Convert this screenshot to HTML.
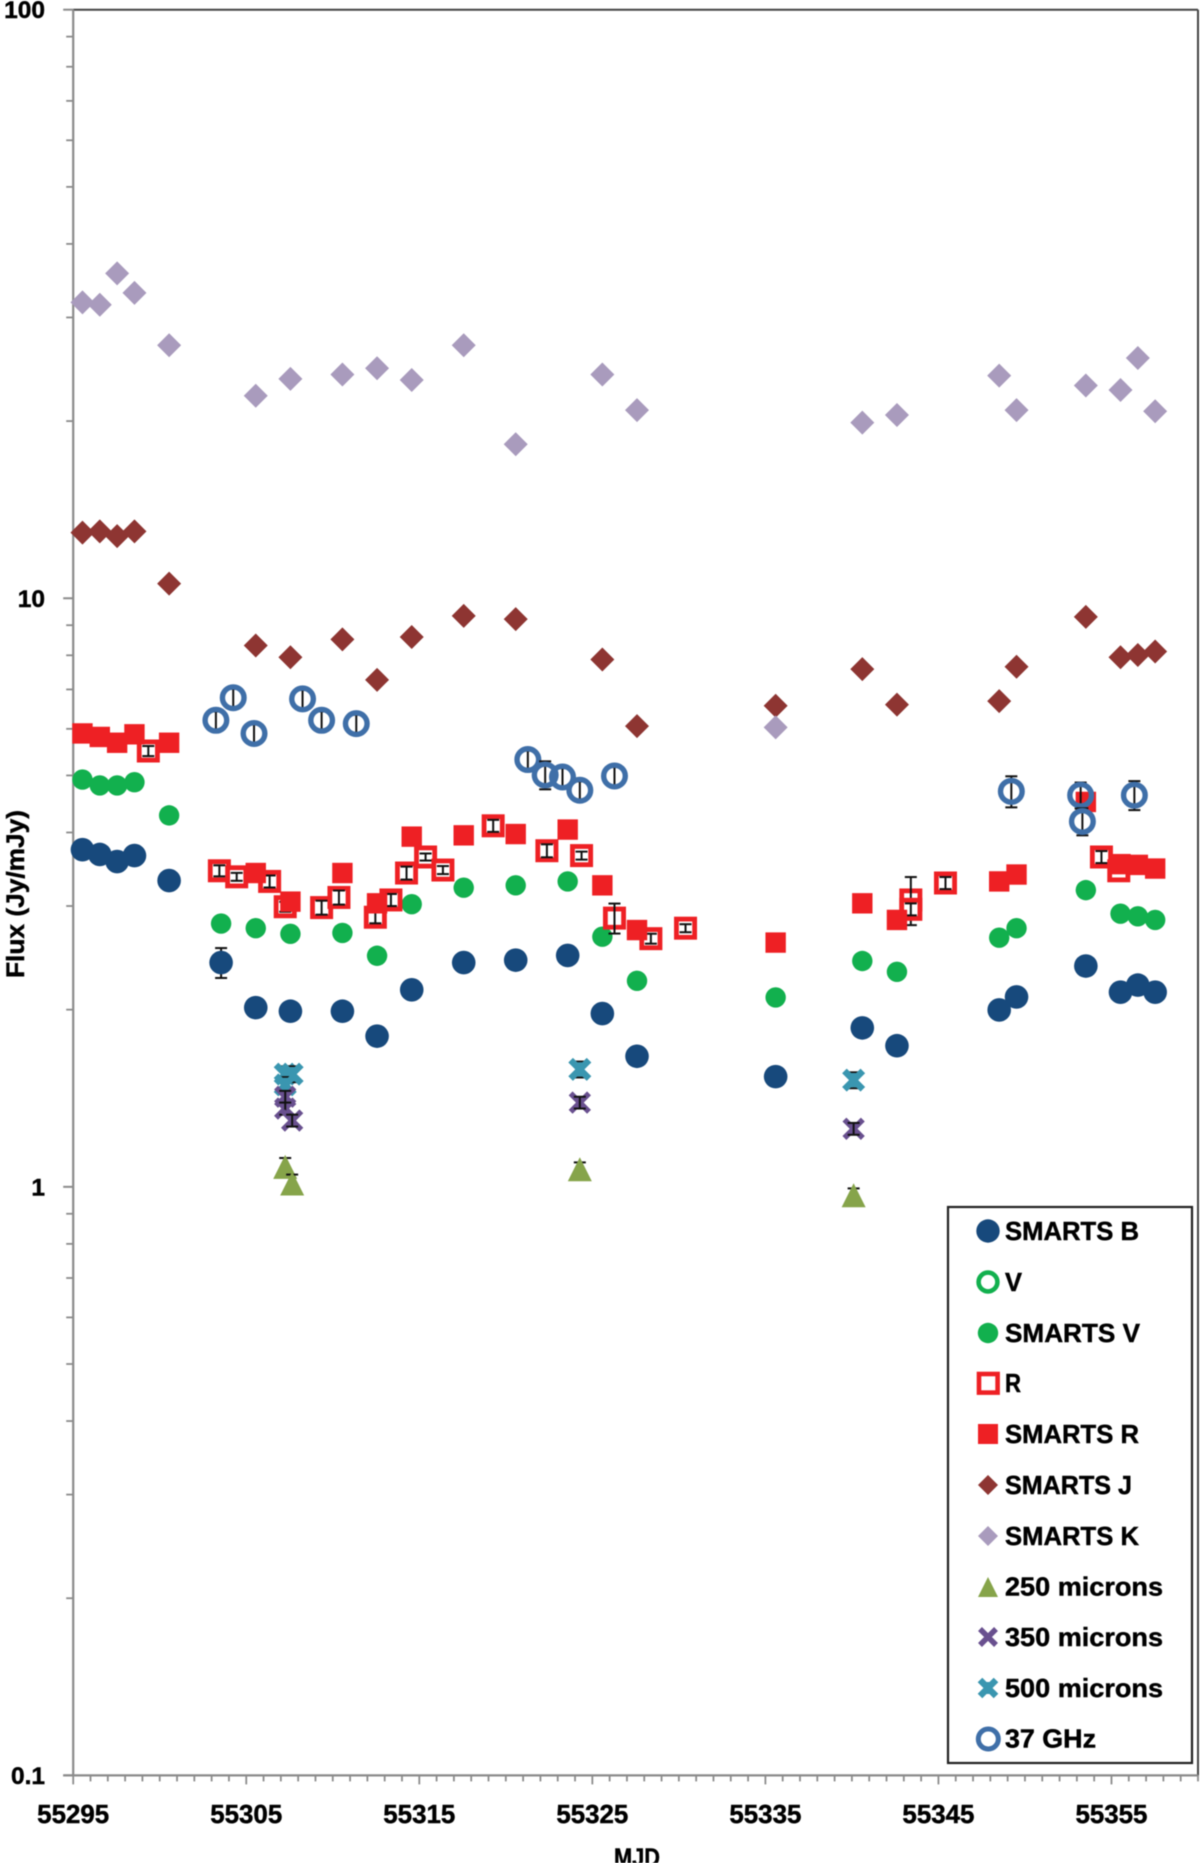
<!DOCTYPE html>
<html lang="en">
<head>
<meta charset="utf-8">
<title>Flux vs MJD</title>
<style>
html,body{margin:0;padding:0;background:#fff;}
#chart{display:block;width:1200px;height:1863px;filter:blur(0.5px);}
text{font-family:"Liberation Sans",sans-serif;font-weight:bold;fill:#000;stroke:#000;stroke-width:0.45px;}
</style>
</head>
<body>
<svg id="chart" xmlns="http://www.w3.org/2000/svg" width="1200" height="1863" viewBox="0 0 1200 1863">
  <rect x="0" y="0" width="1200" height="1863" fill="#fff"/>
  <g id="axes"></g>
  <g id="marks"></g>
  <text transform="translate(24,894) rotate(-90)" text-anchor="middle" font-size="25" textLength="168" lengthAdjust="spacingAndGlyphs">Flux (Jy/mJy)</text>
  <text x="637" y="1866" text-anchor="middle" font-size="25" textLength="46" lengthAdjust="spacingAndGlyphs">MJD</text>
  <g>
    <rect x="948" y="1207" width="244" height="556" fill="#fff" stroke="#222" stroke-width="2.2"/>
    <g>
      <circle cx="988" cy="1231" r="11.7" fill="#17497c"/>
      <text x="1005" y="1240" font-size="26" textLength="134" lengthAdjust="spacingAndGlyphs">SMARTS B</text>
    </g>
    <g>
      <circle cx="988" cy="1282" r="9.4" fill="none" stroke="#12b04e" stroke-width="4.6"/>
      <text x="1005" y="1291" font-size="26" textLength="17" lengthAdjust="spacingAndGlyphs">V</text>
    </g>
    <g>
      <circle cx="988" cy="1333" r="10.2" fill="#12b04e"/>
      <text x="1005" y="1342" font-size="26" textLength="135" lengthAdjust="spacingAndGlyphs">SMARTS V</text>
    </g>
    <g>
      <rect x="979" y="1374" width="18.6" height="18.6" fill="#fff" stroke="#ee2024" stroke-width="4.6"/>
      <text x="1005" y="1392" font-size="26" textLength="16" lengthAdjust="spacingAndGlyphs">R</text>
    </g>
    <g>
      <rect x="978" y="1424" width="20" height="20" fill="#ee2024"/>
      <text x="1005" y="1443" font-size="26" textLength="134" lengthAdjust="spacingAndGlyphs">SMARTS R</text>
    </g>
    <g>
      <polygon points="988,1475 998,1485 988,1495 978,1485" fill="#8e3532"/>
      <text x="1005" y="1494" font-size="26" textLength="127" lengthAdjust="spacingAndGlyphs">SMARTS J</text>
    </g>
    <g>
      <polygon points="988,1526 998,1536 988,1546 978,1536" fill="#a99bbd"/>
      <text x="1005" y="1545" font-size="26" textLength="134" lengthAdjust="spacingAndGlyphs">SMARTS K</text>
    </g>
    <g>
      <polygon points="988,1577 998,1597 978,1597" fill="#86a44a"/>
      <text x="1005" y="1595.5" font-size="26" textLength="158" lengthAdjust="spacingAndGlyphs">250 microns</text>
    </g>
    <g>
      <path d="M980,1629 L996,1645 M996,1629 L980,1645" stroke="#69508f" stroke-width="5.5" fill="none"/>
      <text x="1005" y="1646" font-size="26" textLength="158" lengthAdjust="spacingAndGlyphs">350 microns</text>
    </g>
    <g>
      <path d="M980,1680 L996,1696 M996,1680 L980,1696 M988,1682 L988,1694" stroke="#3a96b0" stroke-width="6.5" fill="none"/>
      <text x="1005" y="1697" font-size="26" textLength="158" lengthAdjust="spacingAndGlyphs">500 microns</text>
    </g>
    <g>
      <circle cx="988.3" cy="1739" r="10" fill="none" stroke="#3f6fa8" stroke-width="5"/>
      <text x="1005" y="1747.5" font-size="26" textLength="91" lengthAdjust="spacingAndGlyphs">37 GHz</text>
    </g>
  </g>
</svg>
<script>
const xTickLabels = [55295, 55305, 55315, 55325, 55335, 55345, 55355];
const yTickLabels = ["100", "10", "1", "0.1"];

const smartsBMjd = [55295.5,55296.5,55297.5,55298.5,55300.5,55303.5,55305.5,55307.5,55310.5,55312.5,55314.5,55317.5,55320.5,55323.5,55325.5,55327.5,55335.5,55340.5,55342.5,55348.4,55349.4,55353.4,55355.4,55356.4,55357.4];
const smartsBFlux = [3.725,3.656,3.556,3.640,3.301,2.395,2.008,1.980,1.980,1.796,2.153,2.395,2.418,2.463,1.962,1.660,1.533,1.855,1.730,1.990,2.094,2.363,2.133,2.193,2.133];
const smartsBErr = [0,0,0,0,0,0.14,0,0,0,0,0,0,0,0,0,0,0,0,0,0,0,0,0,0,0];

const smartsVFlux = [4.90,4.79,4.79,4.85,4.26,2.79,2.74,2.68,2.69,2.46,3.01,3.21,3.24,3.29,2.65,2.23,2.09,2.41,2.31,2.64,2.74,3.18,2.90,2.87,2.83];

const rMjd = [55299.3,55303.4,55304.4,55306.3,55307.2,55309.3,55310.3,55312.4,55313.3,55314.2,55315.3,55316.3,55319.2,55322.3,55324.3,55326.2,55328.3,55330.3,55343.3,55343.3,55345.3,55354.3,55355.3];
const rFlux = [5.48,3.43,3.35,3.29,2.98,2.97,3.09,2.86,3.06,3.40,3.62,3.44,4.09,3.71,3.64,2.85,2.63,2.74,3.06,2.95,3.27,3.62,3.43];
const rErr = [0.108,0.074,0.052,0.077,0.058,0.081,0.085,0.067,0.072,0.086,0.050,0.054,0.096,0.094,0.057,0.167,0.051,0.043,0.287,0.069,0.077,0.085,0.027];

const smartsRMjd = [55295.5,55296.5,55297.5,55298.5,55300.5,55305.5,55307.5,55310.5,55312.5,55314.5,55317.5,55320.5,55323.5,55325.5,55327.5,55335.5,55340.5,55342.5,55348.4,55349.4,55353.4,55355.4,55356.4,55357.4];
const smartsRFlux = [5.87,5.79,5.66,5.85,5.66,3.40,3.04,3.40,3.02,3.92,3.94,3.96,4.03,3.24,2.72,2.59,3.02,2.83,3.29,3.38,4.49,3.52,3.51,3.46];

const smartsJKMjd = [55295.5,55296.5,55297.5,55298.5,55300.5,55305.5,55307.5,55310.5,55312.5,55314.5,55317.5,55320.5,55325.5,55327.5,55335.5,55340.5,55342.5,55348.4,55349.4,55353.4,55355.4,55356.4,55357.4];
const smartsJFlux = [12.88,12.94,12.70,12.94,10.55,8.28,7.91,8.48,7.24,8.56,9.30,9.18,7.84,6.04,6.54,7.55,6.57,6.66,7.62,9.26,7.91,7.98,8.09];
const smartsKFlux = [31.7,31.4,35.5,32.9,26.8,22.0,23.5,23.9,24.5,23.4,26.8,18.2,23.9,20.8,6.01,19.8,20.4,23.8,20.8,22.9,22.5,25.5,20.7];

const m250Mjd = [55307.2,55307.6,55324.2,55340.0];
const m250Flux = [1.077,1.009,1.067,0.964];
const m250Err = [0.038,0.036,0.029,0.026];

const m350Mjd = [55307.2,55307.2,55307.6,55324.2,55340.0];
const m350Flux = [1.417,1.353,1.291,1.385,1.250];
const m350Err = [0.033,0.032,0.030,0.032,0.029];

const m500Mjd = [55307.2,55307.6,55307.2,55324.2,55340.0];
const m500Flux = [1.548,1.548,1.484,1.577,1.512];
const m500Err = [0.048,0.048,0.046,0.049,0.047];

const ghzMjd = [55303.2,55304.2,55305.4,55308.2,55309.3,55311.3,55321.2,55322.2,55323.2,55324.2,55326.2,55349.1,55353.1,55353.2,55356.2];
const ghzFlux = [6.18,6.75,5.87,6.72,6.18,6.10,5.30,4.99,4.95,4.70,4.97,4.68,4.61,4.16,4.61];
const ghzErr = [0.217,0.238,0.207,0.236,0.217,0.215,0.187,0.273,0.174,0.165,0.175,0.284,0.234,0.220,0.261];

const NS = "http://www.w3.org/2000/svg";
const PLOT_LEFT = 73.2, PLOT_RIGHT = 1198, PLOT_TOP = 9.7, PLOT_BOTTOM = 1775.4;
const MJD_MIN = 55295, MJD_MAX = 55360;
const DECADES = 3;
const LOG_MIN = -1;

function xScale(m) {
  return PLOT_LEFT + (m - MJD_MIN) * (PLOT_RIGHT - PLOT_LEFT) / (MJD_MAX - MJD_MIN);
}
function yScale(v) {
  return PLOT_BOTTOM - (Math.log10(v) - LOG_MIN) * (PLOT_BOTTOM - PLOT_TOP) / DECADES;
}
/* markers sit slightly off the tick grid in the source figure */
function markX(m) {
  return xScale(m) + 0.6 + (m - MJD_MIN) * 0.025;
}
function markY(v) {
  return yScale(v) - 1.0;
}
function make(tag, attrs, parent) {
  const el = document.createElementNS(NS, tag);
  for (const k in attrs) el.setAttribute(k, attrs[k]);
  parent.appendChild(el);
  return el;
}

const axes = document.getElementById("axes");
const marks = document.getElementById("marks");
const GRAY = "#8b8b8b";

/* frame */
const topLine = make("line", {x1: PLOT_LEFT, y1: PLOT_TOP, x2: PLOT_RIGHT, y2: PLOT_TOP, stroke: "#444", "stroke-width": 2}, axes);


const rightLine = make("line", {x1: PLOT_RIGHT, y1: PLOT_TOP, x2: PLOT_RIGHT, y2: PLOT_BOTTOM, stroke: "#444", "stroke-width": 2}, axes);


const yAxisLine = make("line", {x1: PLOT_LEFT, y1: PLOT_TOP, x2: PLOT_LEFT, y2: PLOT_BOTTOM, stroke: GRAY, "stroke-width": 2.2}, axes);


const xAxisLine = make("line", {x1: PLOT_LEFT - 10, y1: PLOT_BOTTOM, x2: PLOT_RIGHT, y2: PLOT_BOTTOM, stroke: GRAY, "stroke-width": 2.2}, axes);



/* y ticks */
yTickLabels.forEach(function (label) {
  const base = parseFloat(label);
  const y = yScale(base);
  const tick = make("line", {x1: PLOT_LEFT - 10, y1: y, x2: PLOT_LEFT, y2: y, stroke: GRAY, "stroke-width": 2}, axes);
  
  
  const txt = make("text", {x: 45, y: y + 8.5, "text-anchor": "end", "font-size": 24.5}, axes);
  txt.textContent = label;
  
  
  if (base < 100) {
    for (let k = 2; k <= 9; k++) {
      const my = yScale(base * k);
      const minor = make("line", {x1: PLOT_LEFT - 7, y1: my, x2: PLOT_LEFT, y2: my, stroke: GRAY, "stroke-width": 1.8}, axes);
      
      
    }
  }
});

/* x ticks */
for (let m = MJD_MIN; m <= MJD_MAX; m++) {
  const x = xScale(m);
  const isMajor = (m - MJD_MIN) % 10 === 0;
  const tick = make("line", {x1: x, y1: PLOT_BOTTOM, x2: x, y2: PLOT_BOTTOM + (isMajor ? 9 : 6), stroke: GRAY, "stroke-width": 1.8}, axes);
  
  
}
xTickLabels.forEach(function (label) {
  const txt = make("text", {x: xScale(label), y: 1823, "text-anchor": "middle", "font-size": 25.5, textLength: 72, lengthAdjust: "spacingAndGlyphs"}, axes);
  txt.textContent = label;
  
  
});

/* marker drawing */
function errorBar(parent, m, v, e) {
  if (!e) return;
  const x = markX(m), y1 = markY(v + e), y2 = markY(Math.max(v - e, 0.001));
  const g = make("g", {stroke: "#111", "stroke-width": 2, fill: "none"}, parent);
  
  
  make("line", {x1: x, y1: y1, x2: x, y2: y2}, g);
  make("line", {x1: x - 6, y1: y1, x2: x + 6, y2: y1}, g);
  make("line", {x1: x - 6, y1: y2, x2: x + 6, y2: y2}, g);
}
function drawSeries(name, mjds, vals, errs, drawMarker, barsOnTop) {
  const g = make("g", {}, marks);
  
  
  mjds.forEach(function (m, i) {
    const e = errs ? errs[i] : 0;
    if (!barsOnTop) errorBar(g, m, vals[i], e);
    const node = drawMarker(g, markX(m), markY(vals[i]));
    
    
    if (barsOnTop) errorBar(g, m, vals[i], e);
  });
}
function circle(fill, r) {
  return function (g, x, y) { return make("circle", {cx: x, cy: y, r: r, fill: fill}, g); };
}
function ring(color, r, w) {
  return function (g, x, y) { return make("circle", {cx: x, cy: y, r: r, fill: "none", stroke: color, "stroke-width": w}, g); };
}
function square(fill, s) {
  return function (g, x, y) { return make("rect", {x: x - s / 2, y: y - s / 2, width: s, height: s, fill: fill}, g); };
}
function openSquare(color, s, w) {
  return function (g, x, y) { return make("rect", {x: x - s / 2, y: y - s / 2, width: s, height: s, fill: "#fff", stroke: color, "stroke-width": w}, g); };
}
function diamond(fill, r) {
  return function (g, x, y) {
    return make("polygon", {points: x + "," + (y - r) + " " + (x + r) + "," + y + " " + x + "," + (y + r) + " " + (x - r) + "," + y, fill: fill}, g);
  };
}
function triangle(fill, w, h) {
  return function (g, x, y) {
    return make("polygon", {points: x + "," + (y - h / 2) + " " + (x + w / 2) + "," + (y + h / 2) + " " + (x - w / 2) + "," + (y + h / 2), fill: fill}, g);
  };
}
function cross(color, r, w) {
  return function (g, x, y) {
    return make("path", {d: "M" + (x - r) + "," + (y - r) + "L" + (x + r) + "," + (y + r) + "M" + (x + r) + "," + (y - r) + "L" + (x - r) + "," + (y + r), stroke: color, "stroke-width": w, fill: "none"}, g);
  };
}
function star(color, r, w) {
  return function (g, x, y) {
    return make("path", {d: "M" + (x - r) + "," + (y - r) + "L" + (x + r) + "," + (y + r) + "M" + (x + r) + "," + (y - r) + "L" + (x - r) + "," + (y + r) + "M" + x + "," + (y - r + 2) + "L" + x + "," + (y + r - 2), stroke: color, "stroke-width": w, fill: "none"}, g);
  };
}

drawSeries("smarts-b", smartsBMjd, smartsBFlux, smartsBErr, circle("#17497c", 11.8), false);
drawSeries("smarts-v", smartsBMjd, smartsVFlux, null, circle("#12b04e", 10.2), false);
drawSeries("r", rMjd, rFlux, rErr, openSquare("#ee2024", 18.2, 4.8), true);
drawSeries("smarts-r", smartsRMjd, smartsRFlux, null, square("#ee2024", 20.4), false);
drawSeries("smarts-j", smartsJKMjd, smartsJFlux, null, diamond("#8e3532", 12), false);
drawSeries("smarts-k", smartsJKMjd, smartsKFlux, null, diamond("#a99bbd", 12), false);
drawSeries("250-microns", m250Mjd, m250Flux, m250Err, triangle("#86a44a", 24, 24), false);
drawSeries("500-microns", m500Mjd, m500Flux, m500Err, star("#3a96b0", 9.2, 6.5), false);
drawSeries("350-microns", m350Mjd, m350Flux, m350Err, cross("#69508f", 9.2, 5.5), true);
drawSeries("37-ghz", ghzMjd, ghzFlux, ghzErr, ring("#3f6fa8", 10.8, 5.4), false);
</script>
</body>
</html>
